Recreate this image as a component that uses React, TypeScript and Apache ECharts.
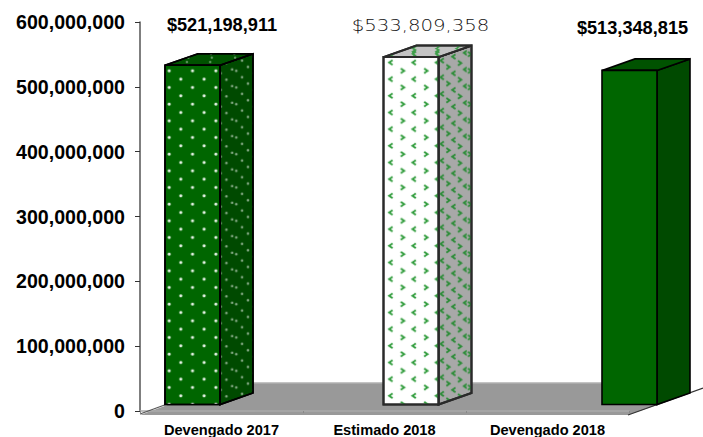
import React, { useEffect, useRef } from "react";
import * as echarts from "echarts";

const categories = ["Devengado 2017", "Estimado 2018", "Devengado 2018"];
const values = [521198911, 533809358, 513348815];
const yTicks = { min: 0, max: 600000000, interval: 100000000 };

const SANS = "'Liberation Sans', Arial, sans-serif";
const W = 55, DX = 33, DY = -11.5, LIFT = -8;
const labelOffsets = [[29.5, 0], [9.5, 0], [3, 3]];

type Draw = (c: CanvasRenderingContext2D, x: number, y: number, flip: boolean) => void;
const dot = (color: string, r: number): Draw => (c, x, y) => {
  c.fillStyle = color;
  c.beginPath();
  c.arc(x, y, r, 0, Math.PI * 2);
  c.fill();
};
const chevron = (color: string): Draw => (c, x, y, flip) => {
  const d = flip ? -1 : 1;
  c.strokeStyle = color;
  c.lineWidth = 5.5;
  c.beginPath();
  c.moveTo(x - 5 * d, y - 7);
  c.lineTo(x + 5 * d, y);
  c.lineTo(x - 5 * d, y + 7);
  c.stroke();
};
const canvasOf = (w: number, h: number, fn: (c: CanvasRenderingContext2D) => void) => {
  const cv = document.createElement("canvas");
  cv.width = w;
  cv.height = h;
  fn(cv.getContext("2d") as CanvasRenderingContext2D);
  return cv;
};
// Tiles are drawn at 3x and shown at 1x, so the marks come out soft.
const frontFill = (draw: Draw, x: number, y: number) => ({
  image: canvasOf(70, 50, (c) => {
    draw(c, 17.5, 12.5, false);
    draw(c, 52.5, 37.5, true);
  }),
  imageWidth: 70 / 3, imageHeight: 50 / 3, repeat: "repeat", x, y,
});
const sideFill = (draw: Draw, x: number, y: number) => ({
  image: canvasOf(100, 50, (c) => {
    for (let k = 0; k < 6; k++) {
      const py = (12.5 + k * 19.2) % 50;
      for (const o of [-50, 0, 50]) draw(c, 9 + 17.5 * k, py + o, k % 2 === 1);
    }
  }),
  imageWidth: 100 / 3, imageHeight: 50 / 3, repeat: "repeat", x, y,
});
const topFill = (draw: Draw, x: number, y: number) => ({
  image: canvasOf(270, 36, (c) => {
    for (let r = 0; r < 3; r++) {
      const py = 2 + 3.8 * r;
      for (let k = -2; k < 6; k++) {
        const px = 11.67 * (r % 2) + 23.33 * k + (11.5 - py) * 2.87 + 3;
        draw(c, px * 3, py * 3, r % 2 === 1);
      }
    }
  }),
  imageWidth: 90, imageHeight: 12, repeat: "repeat", x, y,
});

export default function App() {
  const ref = useRef<HTMLDivElement>(null);
  useEffect(() => {
    const chart = echarts.init(ref.current as HTMLDivElement, undefined, { renderer: "svg" });

    const faces = (i: number, L: number, T: number): any => {
      const solid = { front: "#006600", side: "#004a00", top: "#005200" };
      if (i === 0) {
        return {
          front: frontFill(dot("#eef6ee", 4.6), L - 2.5, T + 0.8),
          side: sideFill(dot("rgba(225,235,225,0.6)", 3.8), L + W, T + 7.5),
          top: topFill(dot("rgba(225,235,225,0.45)", 3.6), L, T + DY),
          bg: solid,
          stroke: "#000",
          lw: 1.6,
        };
      }
      if (i === 1) {
        return {
          front: frontFill(chevron("#2c9a38"), L - 0.8, T - 1.2),
          side: sideFill(chevron("#2a8c36"), L + W, T + 5),
          top: topFill(chevron("#3c9e48"), L, T + DY),
          bg: { front: "#ffffff", side: "#a8a8a8", top: "#c4c4c4" },
          stroke: "#2a2a2a",
          lw: 2,
        };
      }
      return { bg: solid, stroke: "#000", lw: 1.6 };
    };

    const renderItem = (_p: any, api: any) => {
      const i = api.value(0);
      const top = api.coord([i, api.value(1)]);
      const base = api.coord([i, 0]);
      const L = top[0] - W / 2;
      const R = L + W;
      const T = top[1] + LIFT;
      const Bt = base[1] + LIFT;
      const f = faces(i, L, T);
      const front = [[L, T], [R, T], [R, Bt], [L, Bt]];
      const side = [[R, T], [R + DX, T + DY], [R + DX, Bt + DY], [R, Bt]];
      const topF = [[L, T], [L + DX, T + DY], [R + DX, T + DY], [R, T]];
      const poly = (points: number[][], bg: string, pat: any) => {
        const out: any[] = [{ type: "polygon", shape: { points }, style: { fill: bg, stroke: f.stroke, lineWidth: f.lw } }];
        if (pat) out.push({ type: "polygon", shape: { points }, style: { fill: pat, stroke: f.stroke, lineWidth: f.lw } });
        return out;
      };
      const off = labelOffsets[i];
      const plain = i === 1;
      return {
        type: "group",
        children: [
          ...poly(side, f.bg.side, f.side),
          ...poly(topF, f.bg.top, f.top),
          ...poly(front, f.bg.front, f.front),
          {
            type: "text",
            x: top[0] + off[0],
            y: 25 + off[1],
            scaleX: plain ? 1.23 : 1,
            style: {
              text: "$" + values[i].toLocaleString("en-US"),
              fill: plain ? "#111" : "#000",
              font: plain ? "200 16px 'DejaVu Sans', sans-serif" : `bold 18.2px ${SANS}`,
              align: "center",
              verticalAlign: "middle",
            },
          },
        ],
      };
    };

    chart.setOption({
      animation: false,
      backgroundColor: "#fff",
      graphic: [
        { type: "polygon", z: 0, shape: { points: [[140, 415], [628, 415], [657, 405], [662, 383], [228, 383]] }, style: { fill: "#999999", stroke: "none" } },
        { type: "line", z: 0, shape: { x1: 228, y1: 383, x2: 662, y2: 383 }, style: { stroke: "#b0b0b0", lineWidth: 1.5 } },
        { type: "line", z: 1, shape: { x1: 140, y1: 414, x2: 170, y2: 403 }, style: { stroke: "#555", lineWidth: 1.2 } },
        { type: "line", z: 1, shape: { x1: 628, y1: 415, x2: 703, y2: 388 }, style: { stroke: "#333", lineWidth: 1.2 } },
      ],
      grid: [
        { left: 140, width: 489, top: 22, height: 390.5 },
        { left: 192.5, width: 437, top: 22, height: 390.5 },
      ],
      xAxis: [
        {
          type: "category", gridIndex: 0, data: categories, offset: 2.5,
          axisLine: { show: true, lineStyle: { color: "#aaa", width: 1.5 } },
          axisTick: { show: true, alignWithLabel: false, length: 2, lineStyle: { color: "#888" } },
          axisLabel: { color: "#000", fontFamily: SANS, fontWeight: "bold", fontSize: 14.6, margin: 8.5, interval: 0 },
        },
        { type: "value", gridIndex: 1, min: 0, max: 2, show: false },
      ],
      yAxis: [
        {
          type: "value", gridIndex: 0, ...yTicks,
          splitLine: { show: false },
          axisLine: { show: true, lineStyle: { color: "#555", width: 1.5 } },
          axisTick: { show: true, length: 5, lineStyle: { color: "#333" } },
          axisLabel: {
            color: "#000", fontFamily: SANS, fontWeight: "bold", fontSize: 19.6, margin: 15,
            formatter: (v: number) => v.toLocaleString("en-US"),
          },
        },
        { type: "value", gridIndex: 1, ...yTicks, show: false },
      ],
      series: [
        {
          type: "custom", xAxisIndex: 1, yAxisIndex: 1, clip: false, z: 5,
          data: values.map((v, i) => [i, v]),
          renderItem,
        },
      ],
    });
    return () => chart.dispose();
  }, []);
  return <div ref={ref} style={{ position: "fixed", left: 0, top: 0, width: 703, height: 437 }} />;
}
